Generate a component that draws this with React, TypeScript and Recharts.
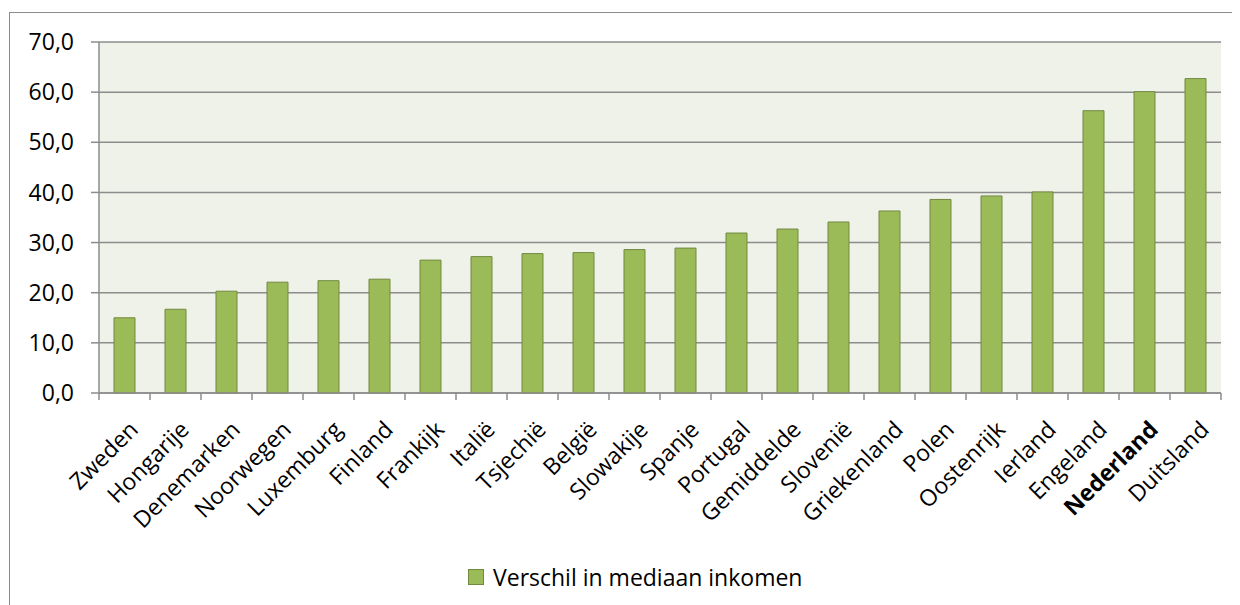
import { Bar, BarChart, CartesianGrid, XAxis, YAxis } from 'recharts';

const countries = [
  'Zweden', 'Hongarije', 'Denemarken', 'Noorwegen', 'Luxemburg', 'Finland', 'Frankijk', 'Italië',
  'Tsjechië', 'België', 'Slowakije', 'Spanje', 'Portugal', 'Gemiddelde', 'Slovenië', 'Griekenland',
  'Polen', 'Oostenrijk', 'Ierland', 'Engeland', 'Nederland', 'Duitsland',
];
const verschil = [
  15.0, 16.7, 20.3, 22.1, 22.4, 22.7, 26.5, 27.2, 27.8, 28.0, 28.6,
  28.9, 31.9, 32.7, 34.1, 36.3, 38.6, 39.3, 40.1, 56.3, 60.1, 62.7,
];
const yTicks = [0, 10, 20, 30, 40, 50, 60, 70];
const highlighted = 'Nederland';
const seriesName = 'Verschil in mediaan inkomen';

const data = countries.map((land, i) => ({ land, verschil: verschil[i] }));

const W = 1232;
const H = 597;
const M = { top: 34, right: 19, left: 0, bottom: 62 };
const Y_AXIS_W = 91;
const plotW = W - M.left - M.right - Y_AXIS_W;
const halfBand = plotW / countries.length / 2;

const font = '"Open Sans", sans-serif';
const gridColor = '#8c8c8c';
const barFill = '#9bbb59';
const barStroke = '#71893f';

const fmt = (v: number) => v.toFixed(1).replace('.', ',');

const XTick = (props: any) => {
  const { x, y, payload, index } = props;
  const bold = payload.value === highlighted;
  return (
    <g>
      <line x1={x - halfBand} y1={y} x2={x - halfBand} y2={y + 7} stroke={gridColor} strokeWidth={1.5} />
      {index === countries.length - 1 && (
        <line x1={x + halfBand} y1={y} x2={x + halfBand} y2={y + 7} stroke={gridColor} strokeWidth={1.5} />
      )}
      <text
        transform={`translate(${x + 15},${y + 38}) rotate(-45)`}
        textAnchor="end"
        fontFamily={font}
        fontSize={23}
        fontWeight={bold ? 700 : 400}
        fill="#000"
      >
        {payload.value}
      </text>
    </g>
  );
};

export default function App() {
  return (
    <div style={{ position: 'relative', width: W, height: H, overflow: 'hidden', background: '#fff' }}>
      <div
        style={{
          position: 'absolute', left: 1, top: 4, width: W + 50, height: H + 50,
          borderLeft: `1.5px solid ${gridColor}`, borderTop: `1.5px solid ${gridColor}`,
        }}
      />
      <div style={{ position: 'absolute', left: 0, top: 0 }}>
        <BarChart width={W} height={H} data={data} margin={M} barSize={21}>
          <CartesianGrid vertical={false} stroke={gridColor} strokeWidth={1.5} fill="#eff2e9" fillOpacity={1} />
          <XAxis
            dataKey="land"
            interval={0}
            height={150}
            tick={<XTick />}
            tickLine={false}
            tickSize={0}
            tickMargin={0}
            axisLine={{ stroke: gridColor, strokeWidth: 1.5 }}
          />
          <YAxis
            width={Y_AXIS_W}
            domain={[0, 70]}
            ticks={yTicks}
            tickFormatter={fmt}
            tickSize={8}
            tickMargin={17}
            tickLine={{ stroke: gridColor, strokeWidth: 1.5 }}
            axisLine={{ stroke: gridColor, strokeWidth: 1.5 }}
            tick={{ fontFamily: font, fontSize: 23, fill: '#000' }}
          />
          <Bar dataKey="verschil" name={seriesName} fill={barFill} stroke={barStroke} strokeWidth={1} isAnimationActive={false} />
        </BarChart>
      </div>
      <div
        style={{
          position: 'absolute', left: 460, top: 553, display: 'flex', alignItems: 'center',
          fontFamily: font, fontSize: 23, color: '#000', whiteSpace: 'nowrap',
        }}
      >
        <span
          style={{
            display: 'inline-block', width: 14, height: 14, background: barFill,
            border: `1px solid ${barStroke}`, marginRight: 9,
          }}
        />
        {seriesName}
      </div>
    </div>
  );
}
